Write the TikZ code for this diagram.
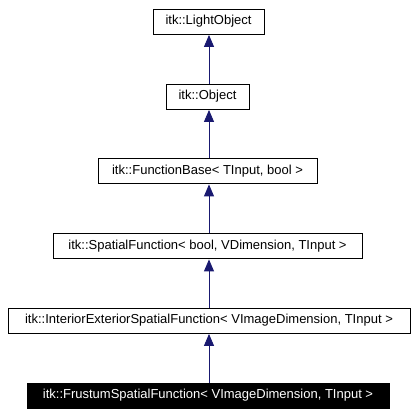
\documentclass[tikz,border=0pt]{standalone}
\usepackage{fontspec}
\setmainfont{Liberation Sans}
\usetikzlibrary{arrows.meta}
\definecolor{edgeblue}{HTML}{191970}

\begin{document}
\begin{tikzpicture}[x=1pt, y=-1pt,
    cls/.style={draw, line width=0.8pt, minimum height=25pt, inner sep=0pt, font=\fontsize{13}{15}\selectfont},
    cur/.style={cls, fill=black, text=white},
    inh/.style={draw=edgeblue, line width=0.9pt, -{Triangle[length=12pt, width=10pt]}, shorten >=0.5pt}]
    \useasboundingbox (0, 0) rectangle (415, 415);
    \node[cls, minimum width=111pt] (a) at (208.5, 21.5) {itk::LightObject};
    \node[cls, minimum width=83pt] (b) at (207.5, 96.5) {itk::Object};
    \node[cls, minimum width=219pt] (c) at (207.5, 171) {itk::FunctionBase< TInput, bool >};
    \node[cls, minimum width=309pt] (d) at (207.5, 246) {itk::SpatialFunction< bool, VDimension, TInput >};
    \node[cls, minimum width=402pt] (e) at (209, 320.5) {itk::InteriorExteriorSpatialFunction< VImageDimension, TInput >};
    \node[cur, minimum width=362pt] (f) at (208, 395.5) {itk::FrustumSpatialFunction< VImageDimension, TInput >};
    \draw [inh] (b.north -| 209, 0) to (a.south -| 209, 0);
    \draw [inh] (c.north -| 209, 0) to (b.south -| 209, 0);
    \draw [inh] (d.north -| 209, 0) to (c.south -| 209, 0);
    \draw [inh] (e.north -| 209, 0) to (d.south -| 209, 0);
    \draw [inh] (f.north -| 209, 0) to (e.south -| 209, 0);
  \end{tikzpicture}
\end{document}
